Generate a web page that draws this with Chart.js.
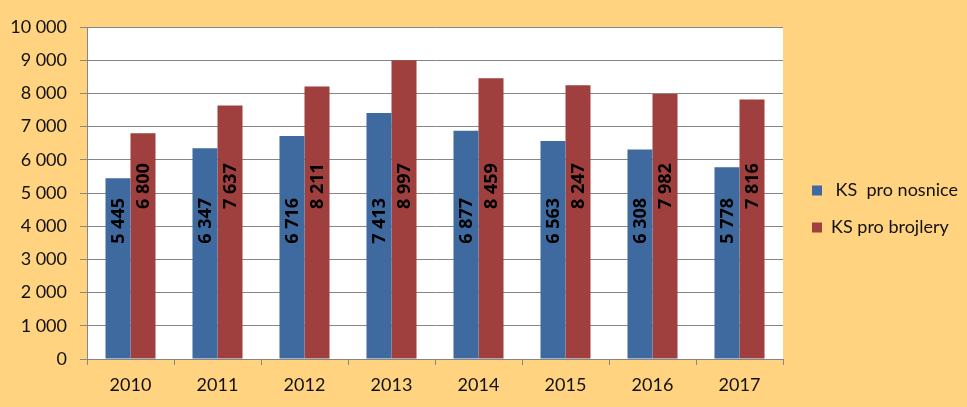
<!DOCTYPE html>
<html>
<head>
<meta charset="utf-8">
<script src="https://cdn.jsdelivr.net/npm/chart.js@4"></script>
<style>
  html, body { margin: 0; padding: 0; background: #FFD37F; }
  canvas { display: block; }
</style>
</head>
<body>
<canvas id="graf" width="967" height="407"></canvas>
<script>
// data
const roky = ['2010', '2011', '2012', '2013', '2014', '2015', '2016', '2017'];
const nosnice = [5445, 6347, 6716, 7413, 6877, 6563, 6308, 5778];
const brojlery = [6800, 7637, 8211, 8997, 8459, 8247, 7982, 7816];
const nazvy = [' KS  pro nosnice', 'KS pro brojlery'];

// 10000 -> "10 000"
function cislo(n) {
    return n.toString().replace(/\B(?=(\d{3})+(?!\d))/g, ' ');
}

// bile pozadi plochy grafu
const plochaPlugin = {
    id: 'plocha',
    beforeDraw(chart) {
        const a = chart.chartArea;
        chart.ctx.save();
        chart.ctx.fillStyle = '#FFFFFF';
        chart.ctx.fillRect(a.left, a.top, a.right - a.left, a.bottom - a.top);
        chart.ctx.restore();
    }
};

// popisky ve sloupcich (svisle, pevna vyska)
const popiskyPlugin = {
    id: 'popisky',
    afterDatasetsDraw(chart) {
        const ctx = chart.ctx;
        const y = chart.scales.y;
        const vysky = [4160, 5210];
        chart.data.datasets.forEach((ds, i) => {
            const meta = chart.getDatasetMeta(i);
            const cy = y.getPixelForValue(vysky[i]);
            meta.data.forEach((bar, j) => {
                ctx.save();
                ctx.translate(bar.x, cy);
                ctx.rotate(-Math.PI / 2);
                ctx.textAlign = 'center';
                ctx.textBaseline = 'middle';
                ctx.font = 'bold 18px "Open Sans"';
                ctx.fillStyle = '#000000';
                ctx.fillText(cislo(ds.data[j]), 0, 1);
                ctx.restore();
            });
        });
    }
};

// pevna sirka legendy a maly posun
const legendaPlugin = {
    id: 'legendaFix',
    afterInit(chart) {
        const fit = chart.legend.fit;
        chart.legend.fit = function() {
            fit.call(this);
            this.width = 184;
        };
    },
    afterLayout(chart) {
        chart.legend.left += 10;
        chart.legend.right += 10;
        chart.legend.top -= 8;
        chart.legend.bottom -= 8;
    }
};

const ctx = document.getElementById('graf').getContext('2d');
const graf = new Chart(ctx, {
    type: 'bar',
    data: {
        labels: roky,
        datasets: [{
            label: nazvy[0],
            data: nosnice,
            backgroundColor: '#3F6A9F'
        }, {
            label: nazvy[1],
            data: brojlery,
            backgroundColor: '#9F3F3E'
        }]
    },
    options: {
        responsive: false,
        animation: false,
        devicePixelRatio: 1,
        layout: {
            padding: { top: 27, right: 0, bottom: 0, left: 0 }
        },
        datasets: {
            bar: {
                categoryPercentage: 0.575,
                barPercentage: 1
            }
        },
        plugins: {
            tooltip: { enabled: false },
            legend: {
                position: 'right',
                align: 'center',
                labels: {
                    color: '#111111',
                    font: { family: 'Lato', size: 18 },
                    boxWidth: 10,
                    boxHeight: 10,
                    padding: 19
                }
            }
        },
        scales: {
            x: {
                afterFit(scale) { scale.height = 48; },
                grid: {
                    drawOnChartArea: false,
                    color: '#868686',
                    tickLength: 6,
                    offset: true
                },
                border: { color: '#868686' },
                ticks: {
                    color: '#111111',
                    font: { family: 'Lato', size: 18 },
                    padding: 9
                }
            },
            y: {
                min: 0,
                max: 10000,
                afterFit(scale) { scale.width = 87; },
                grid: {
                    color: '#868686',
                    tickLength: 7
                },
                border: { color: '#868686' },
                ticks: {
                    stepSize: 1000,
                    color: '#111111',
                    font: { family: 'Lato', size: 18 },
                    padding: 13,
                    callback: function(value) {
                        return cislo(value);
                    }
                }
            }
        }
    },
    plugins: [plochaPlugin, popiskyPlugin, legendaPlugin]
});
</script>
</body>
</html>
